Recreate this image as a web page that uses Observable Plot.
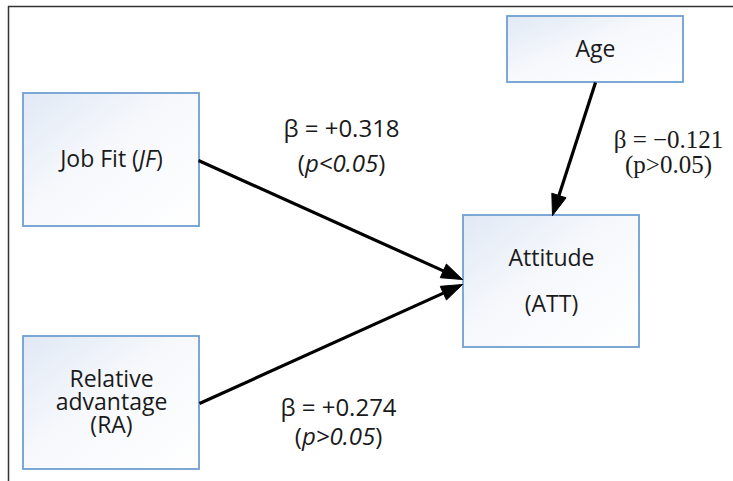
<!DOCTYPE html>
<html>
<head>
<meta charset="utf-8">
<script src="https://cdn.jsdelivr.net/npm/d3@7"></script>
<script src="https://cdn.jsdelivr.net/npm/@observablehq/plot@0.6"></script>
<style>
  html, body { margin: 0; padding: 0; background: #fff; }
</style>
</head>
<body>
<div id="chart"></div>
<script>
// ---- data ----
const nodeIds = ["JF", "RA", "Age", "ATT"];
const nodeLabels = ["Job Fit (*JF*)", "Relative\nadvantage\n(RA)", "Age", "Attitude\n\n(ATT)"];
const pathFrom = ["JF", "RA", "Age"];
const pathTo = ["ATT", "ATT", "ATT"];
const betas = [0.318, 0.274, -0.121];
const pLabels = ["*p<0.05*", "*p>0.05*", "p>0.05"];

// ---- layout (diagram geometry, pixel space) ----
const boxLayout = {
  JF:  {x1: 23,  x2: 199, y1: 93,  y2: 226},
  RA:  {x1: 23,  x2: 199, y1: 336, y2: 469},
  Age: {x1: 507, x2: 683, y1: 16,  y2: 82},
  ATT: {x1: 463, x2: 639, y1: 215, y2: 347}
};
const anchorFrom = {JF: [198, 160], RA: [199, 403], Age: [595, 82]};
const anchorTo = {JF: [462, 279], RA: [462, 284], Age: [552, 215]};
const labelPos = {JF: [341, 129, 35], RA: [338, 408, 29], Age: [668, 139, 25]};

const W = 733, H = 481;

const nodes = nodeIds.map((id, i) => ({id, label: nodeLabels[i], ...boxLayout[id],
  cx: (boxLayout[id].x1 + boxLayout[id].x2) / 2, cy: (boxLayout[id].y1 + boxLayout[id].y2) / 2}));

const fmt = b => "β = " + (b < 0 ? "\u2212" : "+") + Math.abs(b).toFixed(3);
const paths = pathFrom.map((f, i) => {
  const [x0, y0] = anchorFrom[f], [x1, y1] = anchorTo[f];
  const dx = x1 - x0, dy = y1 - y0, len = Math.hypot(dx, dy);
  const ux = dx / len, uy = dy / len;
  const L = 21, hw = 7.5;
  const bx = x1 - ux * L, by = y1 - uy * L;
  return {from: f, to: pathTo[i], beta: betas[i], p: pLabels[i], x0, y0, x1, y1, bx, by,
    head: [[x1, y1], [bx - uy * hw, by + ux * hw], [bx + uy * hw, by - ux * hw], [x1, y1]],
    lx: labelPos[f][0], ly: labelPos[f][1], gap: labelPos[f][2]};
});
const heads = paths.flatMap(p => p.head.map(([x, y]) => ({id: p.from, x, y})));
const sansLabels = paths.filter(p => p.from !== "Age").flatMap(p => [
  {t: fmt(p.beta), x: p.lx, y: p.ly},
  {t: "(" + p.p + ")", x: p.lx, y: p.ly + p.gap}
]);
const serifLabels = paths.filter(p => p.from === "Age").flatMap(p => [
  {t: fmt(p.beta), x: p.lx, y: p.ly},
  {t: "(" + p.p + ")", x: p.lx, y: p.ly + p.gap}
]);

const plot = Plot.plot({
  width: W, height: H,
  margin: 0,
  x: {domain: [0, W], range: [0, W], axis: null},
  y: {domain: [0, H], range: [0, H], axis: null},
  style: {background: "#fff"},
  marks: [
    Plot.ruleX([8], {y1: 6, y2: H, stroke: "#333", strokeWidth: 1.5}),
    Plot.ruleY([6], {x1: 8, x2: W, stroke: "#333", strokeWidth: 1.5}),
    Plot.rect(nodes, {x1: "x1", x2: "x2", y1: "y1", y2: "y2", fill: "url(#boxGrad)", stroke: "#6f9fd2", strokeWidth: 1.8}),
    Plot.link(paths, {x1: "x0", y1: "y0", x2: "bx", y2: "by", stroke: "#000", strokeWidth: 3.2}),
    Plot.line(heads, {x: "x", y: "y", z: "id", fill: "#000", stroke: "#000", strokeWidth: 1}),
    Plot.text(nodes, {x: "cx", y: "cy", text: "label", fontFamily: "Open Sans", fontSize: 23, lineHeight: 1.0, fill: "#1a1a1a"}),
    Plot.text(sansLabels, {x: "x", y: "y", text: "t", fontFamily: "Open Sans", fontSize: 24, fill: "#1a1a1a"}),
    Plot.text(serifLabels, {x: "x", y: "y", text: "t", fontFamily: "Liberation Serif", fontSize: 25, fill: "#1a1a1a"})
  ]
});

// gradient for box fills
const defs = d3.select(plot).insert("defs", ":first-child");
const g = defs.append("linearGradient").attr("id", "boxGrad").attr("x1", 0).attr("y1", 0).attr("x2", 1).attr("y2", 1);
g.append("stop").attr("offset", "0%").attr("stop-color", "#e1e9f5");
g.append("stop").attr("offset", "45%").attr("stop-color", "#f6f8fc");
g.append("stop").attr("offset", "100%").attr("stop-color", "#ffffff");

// italic segments marked with *...*
d3.select(plot).selectAll("text, tspan").each(function() {
  if (this.childNodes.length !== 1 || this.firstChild.nodeType !== 3) return;
  const s = this.textContent;
  if (!s.includes("*")) return;
  const parts = s.split("*");
  this.textContent = "";
  parts.forEach((part, i) => {
    if (!part) return;
    const ts = document.createElementNS("http://www.w3.org/2000/svg", "tspan");
    ts.textContent = part;
    if (i % 2 === 1) ts.setAttribute("font-style", "italic");
    this.appendChild(ts);
  });
});

document.getElementById("chart").appendChild(plot);
</script>
</body>
</html>
